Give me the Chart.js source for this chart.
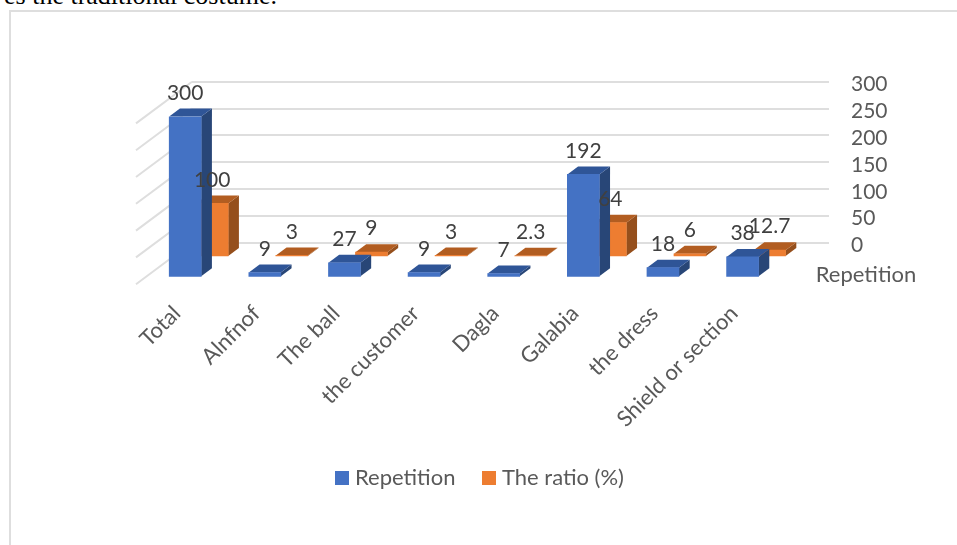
<!DOCTYPE html>
<html>
<head>
<meta charset="utf-8">
<title>Traditional costume</title>
<script src="https://cdn.jsdelivr.net/npm/chart.js@4"></script>
<style>
  html, body { margin: 0; padding: 0; background: #fff; overflow: hidden; }
  body { width: 957px; height: 545px; position: relative; }
  #caption {
    position: absolute; left: 4px; top: -19px; white-space: nowrap;
    font: 26px "Liberation Serif", serif; color: #000;
  }
  #frame {
    position: absolute; left: 9px; top: 10px; width: 960px; height: 560px;
    border: 2px solid #dedede; box-sizing: border-box;
  }
  canvas { position: absolute; left: 0; top: 0; }
</style>
</head>
<body>
<div id="caption">es the traditional costume.</div>
<div id="frame"></div>
<canvas id="chart" width="957" height="545"></canvas>
<script>
const categories = ["Total", "Alnfnof", "The ball", "the customer", "Dagla", "Galabia", "the dress", "Shield or section"];
const repetition = [300, 9, 27, 9, 7, 192, 18, 38];
const ratio = [100, 3, 9, 3, 2.3, 64, 6, 12.7];
const repetitionLabel = "Repetition";
const ratioLabel = "The ratio (%)";

// how far each series row sits in front of the back wall
const ROW_SHIFT = [{ x: -46.6, y: 34.8 }, { x: -19.6, y: 14.5 }];
const WALL_SHIFT = { x: -56, y: 41.7 };
const DEPTH = { x: 10.7, y: -8 };
const FACES = [
  { top: "#2f5597", side: "#284677" },
  { top: "#b25d21", side: "#954f1c" }
];
const LEGEND_X = [335, 482];
const FONT = "Lato";
const GRID_COLOR = "#dedede";

const fillFace = (ctx, points, color) => {
  ctx.fillStyle = color;
  ctx.beginPath();
  points.forEach(([x, y], i) => (i ? ctx.lineTo(x, y) : ctx.moveTo(x, y)));
  ctx.closePath();
  ctx.fill();
};

// 3D look: the library paints the front faces, shifted to their row,
// and this plugin adds the side wall, top face and slanted gridlines
const bars3d = {
  id: "bars3d",
  beforeDatasetsDraw(chart) {
    const { ctx, chartArea, scales: { y } } = chart;
    ctx.save();
    ctx.strokeStyle = GRID_COLOR;
    ctx.lineWidth = 2;
    y.ticks.forEach(tick => {
      const py = y.getPixelForValue(tick.value);
      ctx.beginPath();
      ctx.moveTo(chartArea.left, py);
      ctx.lineTo(chartArea.left + WALL_SHIFT.x, py + WALL_SHIFT.y);
      ctx.stroke();
    });
    ctx.restore();
  },
  beforeDatasetDraw(chart, args) {
    const { ctx } = chart;
    const shift = ROW_SHIFT[args.index];
    const faces = FACES[args.index];
    ctx.save();
    ctx.translate(shift.x, shift.y);
    args.meta.data.forEach(bar => {
      const left = bar.x - bar.width / 2;
      const right = bar.x + bar.width / 2;
      fillFace(ctx, [[right, bar.y], [right + DEPTH.x, bar.y + DEPTH.y], [right + DEPTH.x, bar.base + DEPTH.y], [right, bar.base]], faces.side);
      fillFace(ctx, [[left, bar.y], [left + DEPTH.x, bar.y + DEPTH.y], [right + DEPTH.x, bar.y + DEPTH.y], [right, bar.y]], faces.top);
    });
  },
  afterDatasetDraw(chart) {
    chart.ctx.restore();
  },
  afterDatasetsDraw(chart) {
    const { ctx, data } = chart;
    ctx.save();
    ctx.font = `21px ${FONT}`;
    ctx.textAlign = "center";
    ctx.textBaseline = "middle";
    ctx.fillStyle = "#404040";
    data.datasets.forEach((dataset, d) => {
      const shift = ROW_SHIFT[d];
      chart.getDatasetMeta(d).data.forEach((bar, i) => {
        ctx.fillText(dataset.data[i], bar.x + shift.x, bar.y + shift.y - 23.5);
      });
    });
    // series name on the depth axis
    ctx.font = `22px ${FONT}`;
    ctx.fillStyle = "#595959";
    ctx.fillText(data.datasets[0].label, 866, 275);
    // legend row, the built-in one can't get its text this close to the swatch
    ctx.textAlign = "left";
    data.datasets.forEach((dataset, d) => {
      ctx.fillStyle = dataset.backgroundColor;
      ctx.fillRect(LEGEND_X[d], 471, 14, 14);
      ctx.fillStyle = "#595959";
      ctx.fillText(dataset.label, LEGEND_X[d] + 20, 478);
    });
    ctx.restore();
  }
};

new Chart(document.getElementById("chart"), {
  type: "bar",
  data: {
    labels: categories,
    datasets: [
      { label: repetitionLabel, data: repetition, backgroundColor: "#4472c4", yAxisID: "y" },
      { label: ratioLabel, data: ratio, backgroundColor: "#ed7d31", yAxisID: "y" }
    ]
  },
  options: {
    responsive: false,
    animation: false,
    layout: { padding: { top: 81.7 } },
    datasets: { bar: { grouped: false, barThickness: 32, borderWidth: 0 } },
    plugins: {
      tooltip: { enabled: false },
      legend: { display: false }
    },
    scales: {
      x: {
        grid: { display: false },
        border: { display: false },
        afterFit: scale => { scale.height = 302.5; },
        ticks: {
          autoSkip: false, minRotation: 45, maxRotation: 45, padding: 50, labelOffset: -55,
          color: "#595959", font: { family: FONT, size: 22 }
        }
      },
      y: {
        position: "right",
        min: 0,
        max: 300,
        afterFit: scale => { scale.width = 128; },
        grid: { color: GRID_COLOR, lineWidth: 2, drawTicks: false },
        border: { display: false },
        ticks: { autoSkip: false, stepSize: 50, padding: 22, labelOffset: 3, color: "#595959", font: { family: FONT, size: 21 } }
      },
      // empty axis that only reserves the room left of the back wall
      spacer: {
        position: "left",
        afterFit: scale => { scale.width = 192; },
        grid: { display: false },
        border: { display: false },
        ticks: { display: false }
      }
    }
  },
  plugins: [bars3d]
});
</script>
</body>
</html>
